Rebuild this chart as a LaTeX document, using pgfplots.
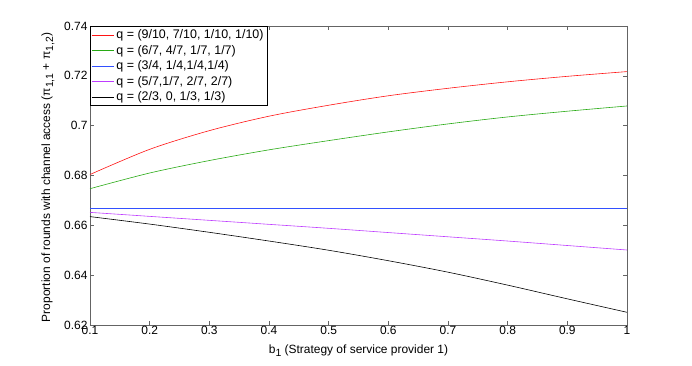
\documentclass[border=0pt]{standalone}
\usepackage{fontspec}
\setmainfont{Liberation Sans}
\usepackage{pgfplots}
\pgfplotsset{compat=1.18}

\definecolor{cRed}{RGB}{255,20,20}
\definecolor{cGreen}{RGB}{40,170,20}
\definecolor{cBlue}{RGB}{50,80,255}
\definecolor{cMag}{RGB}{190,60,255}
\definecolor{axgray}{RGB}{100,100,100}
\newcommand{\sub}[1]{\raisebox{-0.45ex}{\fontsize{10.5}{11}\selectfont #1}}

\begin{document}
\begin{tikzpicture}
  \useasboundingbox (-90bp,-41bp) rectangle (602bp,325bp);
  \begin{axis}[
      at={(0,0)}, anchor=south west,
      scale only axis,
      width=537bp, height=299bp,
      xmin=0.1, xmax=1, ymin=0.62, ymax=0.74,
      xtick={0.1,0.2,...,1.0},
      ytick={0.62,0.64,0.66,0.68,0.70,0.72,0.74},
      yticklabels={0.62,0.64,0.66,0.68,0.7,0.72,0.74},
      xticklabels={0.1,0.2,0.3,0.4,0.5,0.6,0.7,0.8,0.9,1},
      tick align=inside,
      major tick length=4bp,
      axis line style={axgray},
      every tick/.style={axgray},
      font=\fontsize{12}{14}\selectfont,
      tick label style={font=\fontsize{12}{14}\selectfont},
      xticklabel style={yshift=2bp},
      yticklabel style={xshift=1bp},
      xlabel={b\sub{1} (Strategy of service provider 1)},
      ylabel={Proportion of rounds with channel access (π\sub{1,1} + π\sub{1,2})},
      xlabel style={yshift=-3bp},
      ylabel style={yshift=3bp, xshift=-2bp},
      legend cell align=left,
      legend style={draw=black, inner sep=1.5pt, row sep=1pt,
        font=\fontsize{12.5}{14}\selectfont,
        at={(0,1)}, anchor=north west},
      legend image post style={xscale=1.3},
      every axis plot/.append style={line width=0.6pt},
    ]
    \addplot[cRed, smooth] coordinates {
      (0.1,0.6804) (0.2,0.6905) (0.3,0.6980) (0.4,0.7038) (0.5,0.7082)
      (0.6,0.7120) (0.7,0.7150) (0.8,0.7176) (0.9,0.7198) (1.0,0.7217)};
    \addplot[cGreen, smooth] coordinates {
      (0.1,0.6747) (0.2,0.6810) (0.3,0.6860) (0.4,0.6903) (0.5,0.6940)
      (0.6,0.6975) (0.7,0.7007) (0.8,0.7035) (0.9,0.7058) (1.0,0.7079)};
    \addplot[cBlue] coordinates {
      (0.1,0.6667) (1.0,0.6667)};
    \addplot[cMag, smooth] coordinates {
      (0.1,0.6652) (0.2,0.6636) (0.3,0.6620) (0.4,0.6604) (0.5,0.6588)
      (0.6,0.6571) (0.7,0.6554) (0.8,0.6537) (0.9,0.6519) (1.0,0.6501)};
    \addplot[black, smooth] coordinates {
      (0.1,0.6635) (0.2,0.6605) (0.3,0.6572) (0.4,0.6537) (0.5,0.6500)
      (0.6,0.6458) (0.7,0.6412) (0.8,0.6360) (0.9,0.6305) (1.0,0.6251)};
    \legend{{q = (9/10, 7/10, 1/10, 1/10)},
            {q = (6/7, 4/7, 1/7, 1/7)},
            {q = (3/4, 1/4,1/4,1/4)},
            {q = (5/7,1/7, 2/7, 2/7)},
            {q = (2/3, 0, 1/3, 1/3)}}
  \end{axis}
\end{tikzpicture}
\end{document}
